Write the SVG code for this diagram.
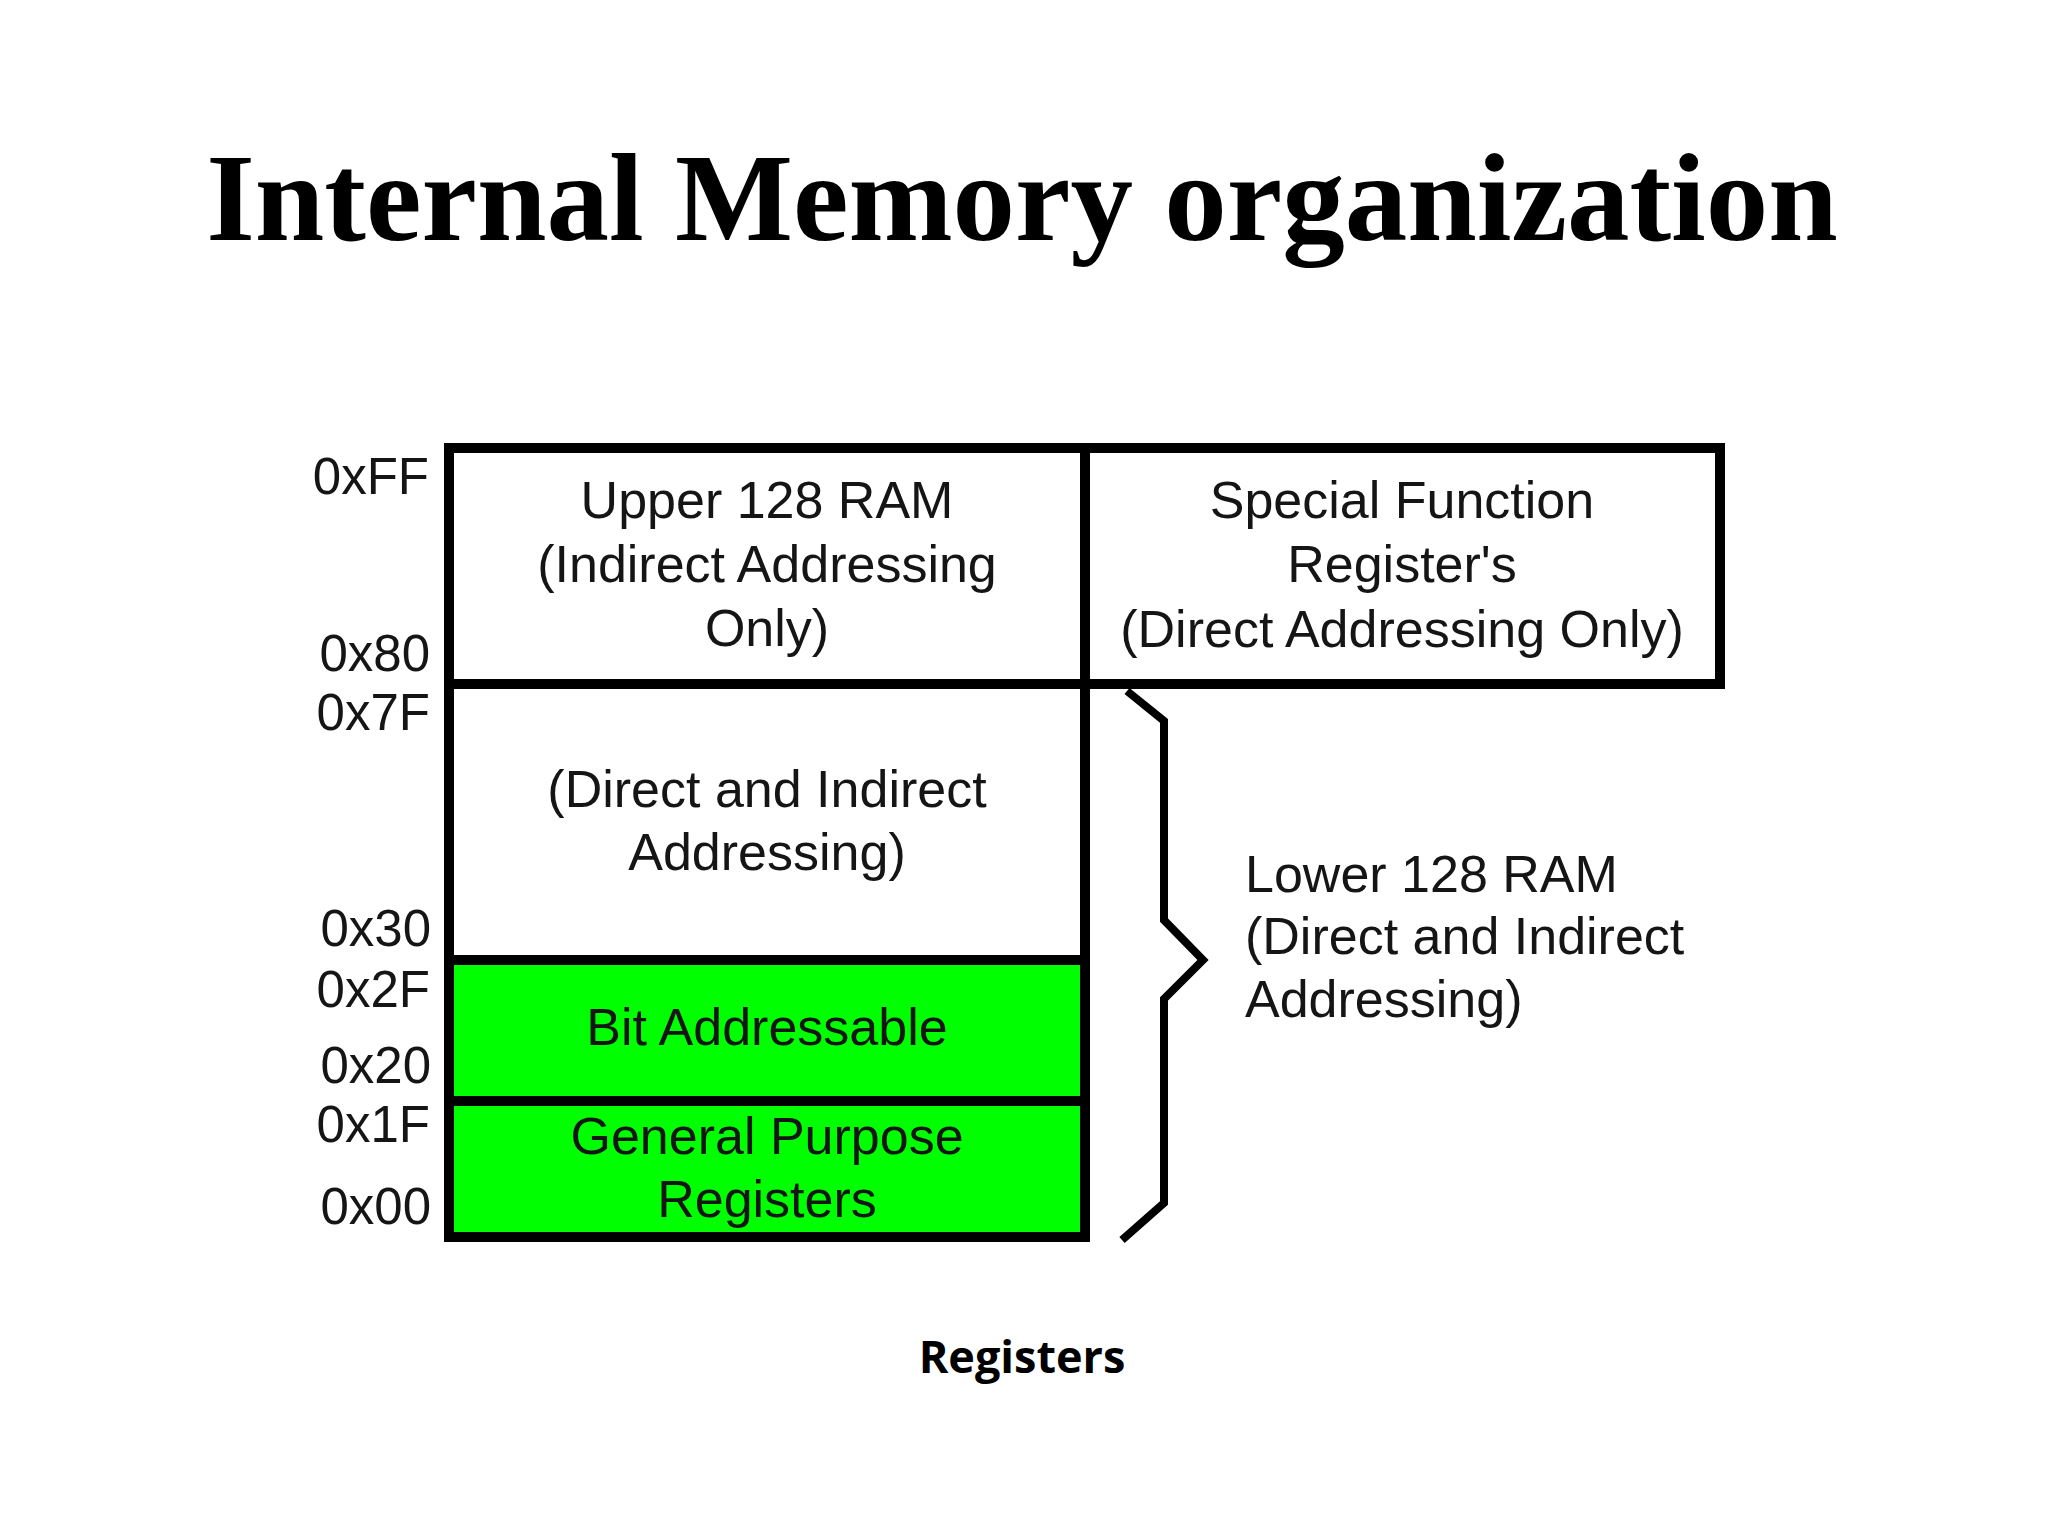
<svg xmlns="http://www.w3.org/2000/svg" width="2048" height="1536" viewBox="0 0 2048 1536">
<style>
.t{font-family:"Liberation Sans",Arial,sans-serif;font-size:52px;fill:#151515;text-anchor:middle}
.a{font-family:"Liberation Sans",Arial,sans-serif;font-size:51px;fill:#151515;text-anchor:end}
.l{font-family:"Liberation Sans",Arial,sans-serif;font-size:52px;fill:#151515}
.box{fill:#fff;stroke:#000;stroke-width:10}
.green{fill:#00ff00;stroke:#000;stroke-width:10}
</style>
<rect width="2048" height="1536" fill="#fff"/>
<text x="1022" y="240" font-family="'Liberation Serif','Times New Roman',serif" font-weight="bold" font-size="125" text-anchor="middle" fill="#000">Internal Memory organization</text>

<g id="direct-indirect">
<rect class="box" x="449" y="684" width="636" height="276"/>
<text class="t" x="767" y="807">(Direct and Indirect</text>
<text class="t" x="767" y="870">Addressing)</text>
</g>
<g id="bit-addressable">
<rect class="green" x="449" y="960" width="636" height="141"/>
<text class="t" x="767" y="1045">Bit Addressable</text>
</g>
<g id="general-purpose">
<rect class="green" x="449" y="1101" width="636" height="136"/>
<text class="t" x="767" y="1154">General Purpose</text>
<text class="t" x="767" y="1217">Registers</text>
</g>
<g id="upper-ram">
<rect class="box" x="449" y="448" width="636" height="236"/>
<text class="t" x="767" y="518">Upper 128 RAM</text>
<text class="t" x="767" y="582">(Indirect Addressing</text>
<text class="t" x="767" y="646">Only)</text>
</g>
<g id="sfr">
<rect class="box" x="1085" y="448" width="635" height="236"/>
<text class="t" x="1402" y="518">Special Function</text>
<text class="t" x="1402" y="582">Register's</text>
<text class="t" x="1402" y="647">(Direct Addressing Only)</text>
</g>

<g id="addresses">
<text class="a" x="429" y="494">0xFF</text>
<text class="a" x="430" y="671">0x80</text>
<text class="a" x="430" y="730">0x7F</text>
<text class="a" x="431" y="946">0x30</text>
<text class="a" x="430" y="1007">0x2F</text>
<text class="a" x="431" y="1083">0x20</text>
<text class="a" x="430" y="1142">0x1F</text>
<text class="a" x="431" y="1224">0x00</text>
</g>

<g id="connectors">
<path d="M1127 691 L1164 721 L1164 920 L1203 960 L1164 999 L1164 1203 L1122 1240" fill="none" stroke="#000" stroke-width="8"/>
</g>

<g id="lower-ram">
<text class="l" x="1245" y="892">Lower 128 RAM</text>
<text class="l" x="1245" y="954">(Direct and Indirect</text>
<text class="l" x="1245" y="1017">Addressing)</text>
</g>

<text x="1022" y="1373" font-family="'Open Sans',sans-serif" font-weight="bold" font-size="45" text-anchor="middle" fill="#000">Registers</text>
</svg>
